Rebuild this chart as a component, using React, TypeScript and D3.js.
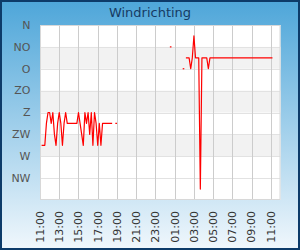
import React from "react";
import * as d3 from "d3";

const W = 300;
const H = 250;

const directionLabels = ["N", "NO", "O", "ZO", "Z", "ZW", "W", "NW"];
const directionDegrees = [0, 45, 90, 135, 180, 225, 270, 315];
const tickLabels = ["11:00", "13:00", "15:00", "17:00", "19:00", "21:00", "23:00", "01:00", "03:00", "05:00", "07:00", "09:00", "11:00"];
const tickMinutes = [0, 120, 240, 360, 480, 600, 720, 840, 960, 1080, 1200, 1320, 1440];

// segments: start minute after 11:00 on day 1, 10-minute samples (degrees)
const segAStart = 10;
const segAValues = [247.5, 247.5, 247.5, 202.5, 180, 180, 202.5, 180, 225, 247.5, 202.5, 180, 202.5, 247.5, 202.5, 180, 202.5, 202.5, 202.5, 202.5, 202.5, 202.5, 202.5, 180, 202.5, 225, 247.5, 180, 202.5, 180, 225, 180, 247.5, 180, 202.5, 247.5, 202.5, 247.5, 202.5, 202.5, 202.5, 202.5, 202.5, 202.5, 202.5];
const segBStart = 470;
const segBValues = [202.5, 202.5];
const segCStart = 810;
const segCValues = [45, 45];
const segDStart = 890;
const segDValues = [90, 90];
const segEStart = 910;
const segEValues = [67.5, 67.5, 67.5, 90, 67.5, 22.5, 67.5, 67.5, 67.5, 337.5, 67.5, 67.5, 67.5, 67.5, 90, 67.5,
  67.5, 67.5, 67.5, 67.5, 67.5, 67.5, 67.5, 67.5, 67.5, 67.5, 67.5, 67.5, 67.5, 67.5, 67.5, 67.5, 67.5, 67.5, 67.5, 67.5,
  67.5, 67.5, 67.5, 67.5, 67.5, 67.5, 67.5, 67.5, 67.5, 67.5, 67.5, 67.5, 67.5, 67.5, 67.5, 67.5, 67.5, 67.5, 67.5];

const segments = [
  { start: segAStart, values: segAValues },
  { start: segBStart, values: segBValues },
  { start: segCStart, values: segCValues },
  { start: segDStart, values: segDValues },
  { start: segEStart, values: segEValues },
];

const plot = { left: 40, right: 280.5, top: 25, bottom: 200 };

export default function App() {
  const x = d3.scaleLinear().domain([0, 1500]).range([plot.left, plot.right]);
  const y = d3.scaleLinear().domain([0, 360]).range([plot.top, plot.bottom]);
  const line = d3.line<[number, number]>().x((d) => x(d[0])).y((d) => y(d[1]));
  const bands = [45, 135, 225];

  return (
    <svg width={W} height={H} style={{ position: "absolute", left: 0, top: 0 }} fontFamily="DejaVu Sans">
      <defs>
        <linearGradient id="bg" x1="0" y1="0" x2="0" y2="1">
          <stop offset="0" stopColor="#4ea6d9" />
          <stop offset="1" stopColor="#f0f7fc" />
        </linearGradient>
      </defs>
      <rect x={1} y={1} width={W - 2} height={H - 2} fill="url(#bg)" stroke="#0d3b69" strokeWidth={2} />
      <text x={150} y={17} textAnchor="middle" fontSize={13} fill="#163a63">Windrichting</text>
      <rect x={plot.left} y={plot.top} width={plot.right - plot.left} height={plot.bottom - plot.top} fill="#ffffff" />
      {bands.map((b) => (
        <rect key={b} x={plot.left} y={y(b)} width={plot.right - plot.left} height={y(b + 45) - y(b)} fill="#f2f2f2" />
      ))}
      {directionDegrees.map((d) => (
        <line key={"h" + d} x1={plot.left} x2={plot.right} y1={Math.round(y(d)) + 0.5} y2={Math.round(y(d)) + 0.5} stroke="#e2e2e2" />
      ))}
      {tickMinutes.map((m, i) => (
        <line key={"v" + i} x1={Math.round(x(m)) + 0.5} x2={Math.round(x(m)) + 0.5} y1={plot.top} y2={plot.bottom} stroke="#cccccc" />
      ))}
      <rect x={plot.left + 0.5} y={plot.top + 0.5} width={plot.right - plot.left - 1} height={plot.bottom - plot.top - 1} fill="none" stroke="#d8d8d8" />
      {segments.map((s, i) => (
        <path
          key={"s" + i}
          d={line(s.values.map((v, j) => [s.start + j * 10, v] as [number, number])) || ""}
          fill="none"
          stroke="#ff0000"
          strokeWidth={1.2}
          strokeLinejoin="round"
        />
      ))}
      {directionLabels.map((l, i) => (
        <text key={"yl" + i} x={30.5} y={y(directionDegrees[i])} dy="0.35em" textAnchor="end" fontSize={11} fill="#555555">{l}</text>
      ))}
      {tickLabels.map((t, i) => (
        <text
          key={"xl" + i}
          transform={`translate(${x(tickMinutes[i])},211) rotate(-90)`}
          dy="0.35em"
          textAnchor="end"
          fontSize={11}
          fill="#333333"
        >{t}</text>
      ))}
    </svg>
  );
}
